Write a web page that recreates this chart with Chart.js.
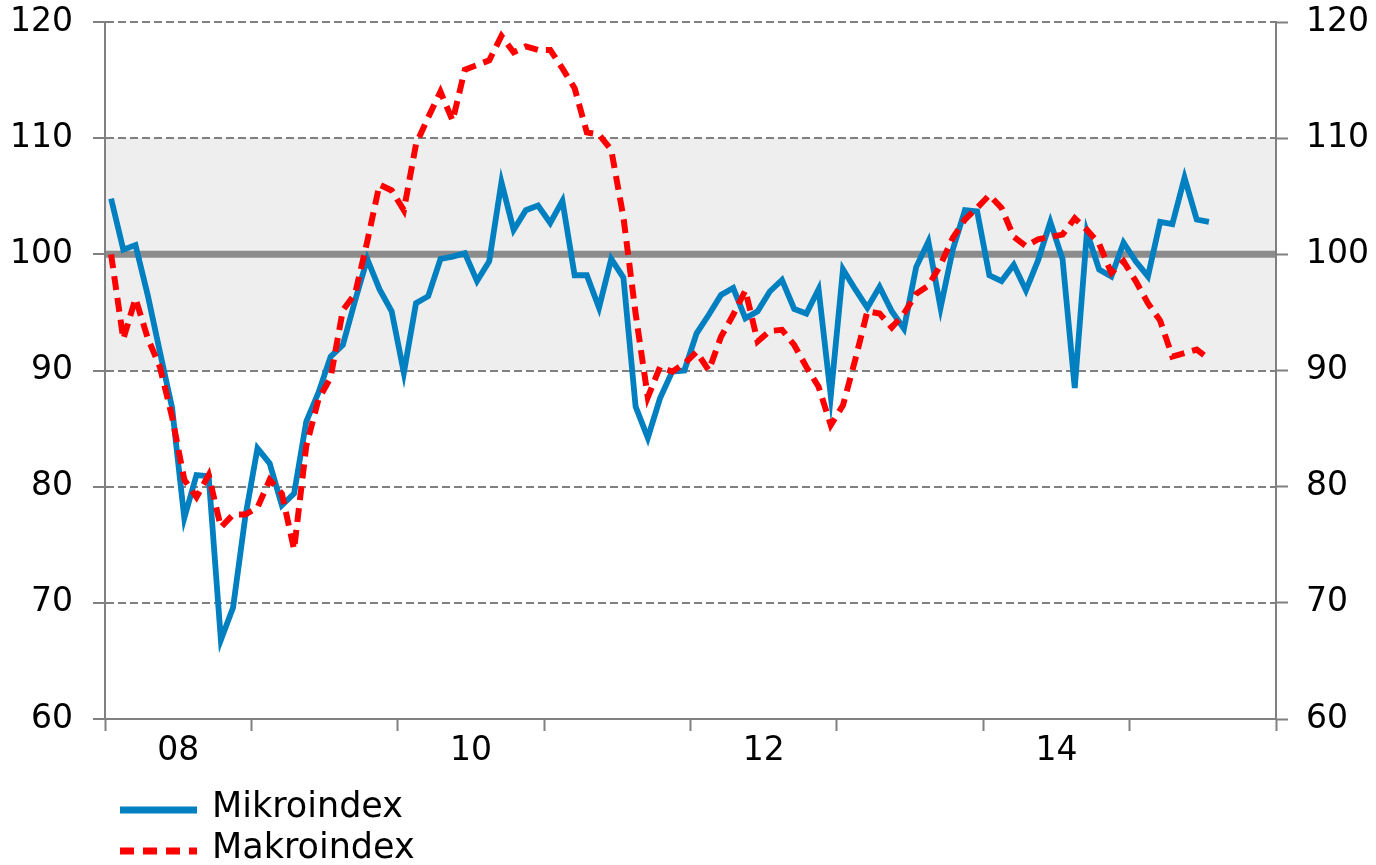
<!DOCTYPE html>
<html>
<head>
<meta charset="utf-8">
<script src="https://cdn.jsdelivr.net/npm/chart.js@4/dist/chart.umd.min.js"></script>
<style>
html,body{margin:0;padding:0;background:#fff;}
#c{display:block;}
</style>
</head>
<body>
<canvas id="c" width="1376" height="865"></canvas>
<script>
// ---- Data (monthly, Jan 2008 .. Jul 2015) ----
const yearLabels = ['08', '', '10', '', '12', '', '14', '', ''];
const seriesNames = ['Mikroindex', 'Makroindex'];

const mikro = [
  104.8, 100.4, 100.8, 96.5, 91.6, 86.8, 77.3, 81.0, 80.9, 66.8, 69.6, 77.4,
  83.3, 82.0, 78.4, 79.4, 85.6, 88.1, 91.2, 92.2, 96.0, 99.6, 97.0, 95.1,
  89.8, 95.8, 96.4, 99.6, 99.8, 100.1, 97.7, 99.4, 106.2, 102.1, 103.8, 104.2,
  102.7, 104.6, 98.2, 98.2, 95.4, 99.6, 98.0, 86.9, 84.2, 87.6, 89.9, 90.0,
  93.2, 94.8, 96.5, 97.1, 94.5, 95.1, 96.8, 97.8, 95.3, 94.9, 97.0, 87.8,
  98.7, 97.0, 95.4, 97.2, 95.1, 93.6, 98.9, 101.1, 95.4, 100.4, 103.8, 103.7,
  98.2, 97.7, 99.1, 96.9, 99.5, 102.8, 99.6, 88.5, 101.9, 98.7, 98.1, 101.0,
  99.4, 98.1, 102.8, 102.6, 106.6, 103.0, 102.8
];

const makro = [
  100.0, 92.7, 96.2, 92.8, 90.3, 86.0, 80.6, 79.1, 81.0, 76.5, 77.6, 77.6,
  78.2, 80.6, 79.4, 74.6, 83.5, 87.5, 89.4, 95.2, 96.6, 101.1, 106.0, 105.5,
  103.8, 109.5, 111.8, 114.0, 111.5, 115.9, 116.3, 116.7, 118.8, 117.4, 117.9, 117.6,
  117.6, 116.0, 114.3, 110.5, 110.3, 109.0, 103.2, 94.9, 87.7, 90.3, 89.9, 90.6,
  91.6, 90.0, 92.9, 94.8, 96.9, 92.5, 93.4, 93.5, 92.2, 90.3, 88.6, 85.3,
  87.0, 90.9, 95.1, 94.9, 93.7, 94.9, 96.6, 97.3, 99.1, 101.4, 103.0, 104.0,
  105.1, 104.0, 101.5, 100.7, 101.3, 101.5, 101.7, 103.1, 102.1, 100.9, 98.4, 99.4,
  97.7, 95.8, 94.3, 91.2, 91.5, 91.8, 91.0
];

const yMin = 60, yMax = 120, yStep = 10;
const bandLow = 90, bandHigh = 110, refLevel = 100;
const monthsPerYear = 12, nYears = 8;

// month index 0 = Jan 2008
const toPoints = arr => arr.map((v, i) => ({ x: i, y: v }));

const FONT = '"DejaVu Sans", Verdana, sans-serif';
const GRID = '#808080';

const bandPlugin = {
  id: 'band',
  beforeDraw(chart) {
    const { ctx, chartArea: a, scales: { y } } = chart;
    const top = y.getPixelForValue(bandHigh), bot = y.getPixelForValue(bandLow);
    ctx.save();
    ctx.fillStyle = '#EEEEEE';
    ctx.fillRect(a.left, top, a.right - a.left, bot - top);
    ctx.restore();
  },
  beforeDatasetsDraw(chart) {
    const { ctx, chartArea: a, scales: { y } } = chart;
    const p = y.getPixelForValue(refLevel);
    ctx.save();
    ctx.strokeStyle = '#8C8C8C';
    ctx.lineWidth = 7;
    ctx.beginPath();
    ctx.moveTo(a.left + 1, p);
    ctx.lineTo(a.right - 1, p);
    ctx.stroke();
    ctx.restore();
  }
};

const legendPlugin = {
  id: 'customLegend',
  afterDraw(chart) {
    const { ctx } = chart;
    const rows = [810, 851];
    const textRows = [808, 849];
    chart.data.datasets.forEach((ds, i) => {
      ctx.save();
      ctx.strokeStyle = ds.borderColor;
      ctx.lineWidth = 7;
      ctx.setLineDash(ds.borderDash && ds.borderDash.length ? [14, 9] : []);
      ctx.beginPath();
      ctx.moveTo(120, rows[i]);
      ctx.lineTo(197, rows[i]);
      ctx.stroke();
      ctx.setLineDash([]);
      ctx.fillStyle = '#000';
      ctx.font = '35px ' + FONT;
      ctx.textBaseline = 'middle';
      ctx.textAlign = 'left';
      ctx.fillText(ds.label, 212, textRows[i]);
      ctx.restore();
    });
  }
};

const yTicksCommon = {
  stepSize: yStep,
  color: '#000',
  font: { family: FONT, size: 33 }
};

const noPad = s => { s.paddingTop = 0; s.paddingBottom = 0; };

new Chart(document.getElementById('c'), {
  type: 'line',
  data: {
    datasets: [
      {
        label: seriesNames[0],
        data: toPoints(mikro),
        borderColor: '#0080C0',
        borderWidth: 5.8,
        pointRadius: 0,
        tension: 0,
        fill: false,
        order: 1
      },
      {
        label: seriesNames[1],
        data: toPoints(makro),
        borderColor: '#FF0000',
        borderWidth: 6,
        borderDash: [14, 8],
        pointRadius: 0,
        tension: 0,
        fill: false,
        order: 0
      }
    ]
  },
  options: {
    responsive: false,
    animation: false,
    devicePixelRatio: 1,
    layout: { padding: { top: 22, left: 0, right: 0, bottom: 0 } },
    plugins: {
      legend: { display: false },
      tooltip: { enabled: false }
    },
    scales: {
      x: {
        type: 'linear',
        min: -0.5,
        max: monthsPerYear * nYears - 0.5,
        afterBuildTicks(scale) {
          const t = [];
          for (let k = 0; k <= nYears; k++) t.push({ value: -0.5 + k * monthsPerYear });
          scale.ticks = t;
        },
        afterFit(scale) { scale.height = 146; scale.paddingLeft = 0; scale.paddingRight = 0; },
        ticks: {
          autoSkip: false,
          maxRotation: 0,
          minRotation: 0,
          padding: 1,
          labelOffset: 73.2,
          color: '#000',
          font: { family: FONT, size: 33 },
          callback: (v, i) => yearLabels[i] || ''
        },
        grid: {
          display: true,
          drawOnChartArea: false,
          drawTicks: true,
          tickLength: 12,
          tickColor: GRID,
          tickWidth: 2,
          color: GRID
        },
        border: { display: true, color: GRID, width: 2 }
      },
      y: {
        position: 'left',
        min: yMin,
        max: yMax,
        afterFit(scale) { scale.width = 105; noPad(scale); },
        ticks: Object.assign({ padding: 20 }, yTicksCommon),
        grid: {
          color: GRID,
          lineWidth: 2,
          drawTicks: true,
          tickLength: 12,
          tickColor: GRID,
          tickWidth: 2,
          tickBorderDash: []
        },
        border: { display: true, color: GRID, width: 2, dash: [8, 4] }
      },
      y2: {
        position: 'right',
        min: yMin,
        max: yMax,
        afterFit(scale) { scale.width = 100; noPad(scale); },
        ticks: Object.assign({ padding: 18 }, yTicksCommon),
        grid: {
          drawOnChartArea: false,
          drawTicks: true,
          tickLength: 12,
          tickColor: GRID,
          tickWidth: 2,
          color: GRID
        },
        border: { display: true, color: GRID, width: 2 }
      }
    }
  },
  plugins: [bandPlugin, legendPlugin]
});
</script>
</body>
</html>
